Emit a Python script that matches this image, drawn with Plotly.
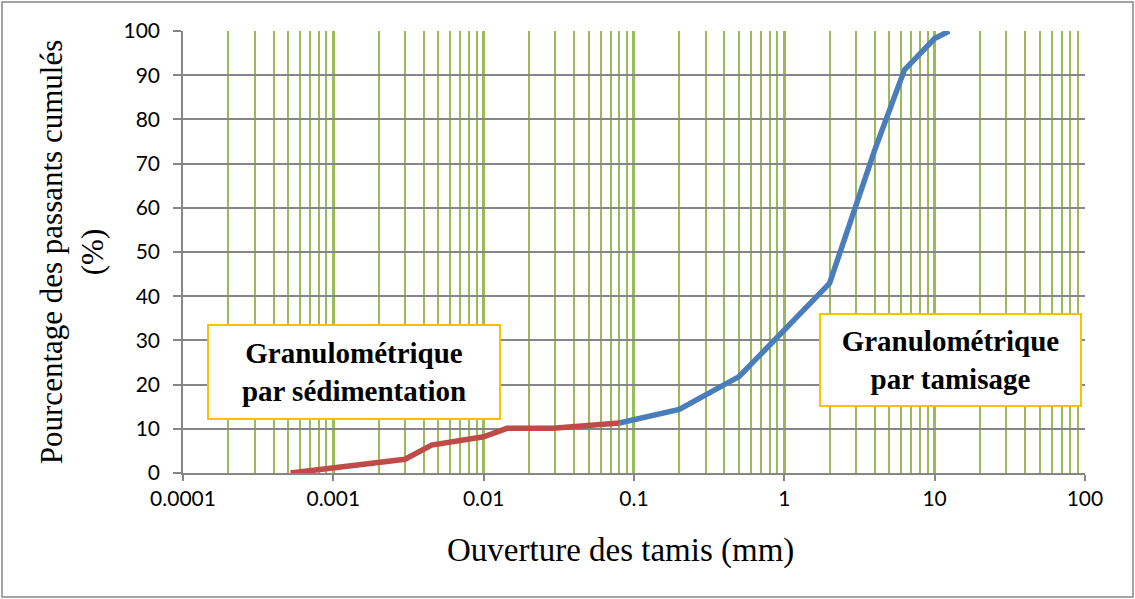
import plotly.graph_objects as go

# ---- data ----
sed_x = [0.00052, 0.001, 0.002, 0.003, 0.0045, 0.01, 0.0143, 0.029, 0.08]
sed_y = [0.0, 1.1, 2.2, 3.1, 6.3, 8.2, 10.1, 10.1, 11.3]

tam_x = [0.08, 0.2, 0.5, 1, 2, 4, 6.3, 10, 12.5]
tam_y = [11.3, 14.4, 21.8, 32.3, 42.9, 73.1, 91.2, 98.3, 100.0]

x_tickvals = [0.0001, 0.001, 0.01, 0.1, 1, 10, 100]
x_ticktext = ["0.0001", "0.001", "0.01", "0.1", "1", "10", "100"]
y_tickvals = [0, 10, 20, 30, 40, 50, 60, 70, 80, 90, 100]

x_title = "Ouverture des tamis (mm)"
y_title = "Pourcentage des passants cumulés<br>(%)"
label_sed = "Granulométrique<br>par sédimentation"
label_tam = "Granulométrique<br>par tamisage"

# minor gridline positions (2..9 x each decade)
minor_vals = [m * 10.0 ** e for e in range(-4, 2) for m in range(2, 10)]

GREEN = "#9BBB59"
GRAY = "#868686"
BLUE = "#4A7EBB"
RED = "#BE4B48"
GOLD = "#FFC000"

W, H = 1135, 599
L, R, T, B = 183, 50, 31, 126
pw, ph = W - L - R, H - T - B


def px_to_paper_x(px):
    return (px - L) / pw


def px_to_paper_y(py):
    return (H - B - py) / ph


def bold_lines(s):
    return "<br>".join("<b>" + p + "</b>" for p in s.split("<br>"))


fig = go.Figure()
fig.add_trace(go.Scatter(x=sed_x, y=sed_y, mode="lines",
                         line=dict(color=RED, width=5.5), showlegend=False))
fig.add_trace(go.Scatter(x=tam_x, y=tam_y, mode="lines",
                         line=dict(color=BLUE, width=5.5), showlegend=False))

fig.update_layout(
    width=W, height=H,
    margin=dict(l=L, r=R, t=T, b=B, pad=0),
    paper_bgcolor="white", plot_bgcolor="white",
    showlegend=False,
    xaxis=dict(
        type="log", range=[-4, 2.0005],
        tickmode="array", tickvals=x_tickvals, ticktext=x_ticktext,
        showgrid=True, gridcolor=GREEN, gridwidth=3,
        minor=dict(tickmode="array", tickvals=minor_vals, showgrid=True,
                   gridcolor=GREEN, gridwidth=2, ticks=""),
        ticks="outside", ticklen=6, tickcolor=GRAY, tickwidth=1.5,
        showline=True, linecolor=GRAY, linewidth=1.5,
        zeroline=False,
        tickfont=dict(family="Lato", size=21, color="black"),
    ),
    yaxis=dict(
        range=[0, 100],
        tickmode="array", tickvals=y_tickvals,
        showgrid=True, gridcolor=GRAY, gridwidth=1.5,
        ticks="outside", ticklen=8, tickcolor=GRAY, tickwidth=1.5,
        ticklabelstandoff=9,
        showline=True, linecolor=GRAY, linewidth=1.5,
        zeroline=False,
        tickfont=dict(family="Lato", size=21, color="black"),
        title=dict(text=y_title, standoff=11,
                   font=dict(family="Liberation Serif", size=31, color="black")),
    ),
    font=dict(family="Liberation Serif"),
)

# x axis title
fig.add_annotation(
    xref="paper", yref="paper",
    x=px_to_paper_x(620), y=px_to_paper_y(550),
    xanchor="center", yanchor="middle",
    text=x_title, showarrow=False,
    font=dict(family="Liberation Serif", size=33, color="black"),
)

# text boxes
fig.add_annotation(
    xref="paper", yref="paper",
    x=px_to_paper_x(354), y=px_to_paper_y(371.5),
    xanchor="center", yanchor="middle",
    text=bold_lines(label_sed),
    showarrow=False, align="center",
    font=dict(family="Liberation Serif", size=29, color="black"),
    bgcolor="white", bordercolor=GOLD, borderwidth=2, borderpad=0,
    width=290, height=92,
)
fig.add_annotation(
    xref="paper", yref="paper",
    x=px_to_paper_x(950), y=px_to_paper_y(360),
    xanchor="center", yanchor="middle",
    text=bold_lines(label_tam),
    showarrow=False, align="center",
    font=dict(family="Liberation Serif", size=29, color="black"),
    bgcolor="white", bordercolor=GOLD, borderwidth=2, borderpad=0,
    width=259, height=90,
)

# outer chart border
fig.add_shape(type="rect", xref="paper", yref="paper",
              x0=px_to_paper_x(2), x1=px_to_paper_x(1133),
              y0=px_to_paper_y(597), y1=px_to_paper_y(2),
              line=dict(color=GRAY, width=1.5), layer="below")

fig.write_html("out.html",
               config={"displayModeBar": False},
               post_script="document.body.style.margin='0px';document.body.style.overflow='hidden';")
